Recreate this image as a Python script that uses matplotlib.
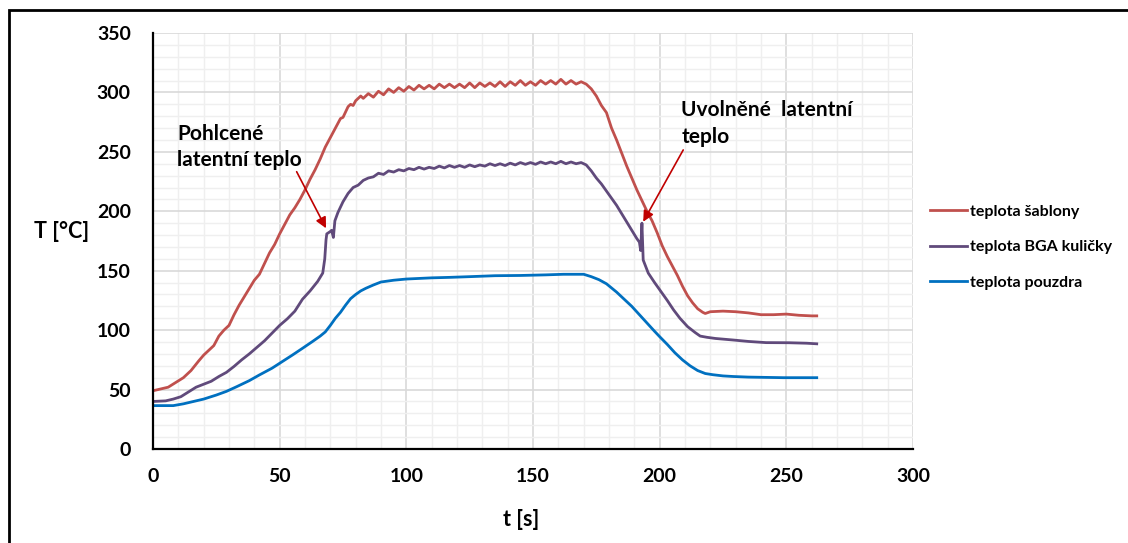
import matplotlib
matplotlib.use('Agg')
import matplotlib.pyplot as plt
from matplotlib.patches import Rectangle
from matplotlib.ticker import MultipleLocator

plt.rcParams['font.family'] = ['Lato', 'DejaVu Sans']
plt.rcParams['font.weight'] = 'bold'

# teplota sablony
t_sablona = [0, 3, 6, 9, 12, 15, 18, 20, 22, 24, 26, 28, 30, 32, 34, 36, 38, 40, 42, 44,
             46, 48, 50, 52, 54, 56, 58, 60, 62, 64, 66, 68, 70, 72, 74, 75, 77, 78, 79, 80,
             82, 83, 85, 87, 89, 91, 93, 95, 97, 99, 101, 103, 105, 107, 109, 111, 113, 115, 117, 119,
             121, 123, 125, 127, 129, 131, 133, 135, 137, 139, 141, 143, 145, 147, 149, 151, 153, 155, 157, 159,
             161, 163, 165, 167, 169, 171, 173, 175, 177, 179, 181, 183, 185, 187, 189, 191, 193, 195, 197, 199,
             201, 203, 205, 207, 209, 211, 213, 215, 217, 218, 220, 225, 230, 235, 240, 245, 250, 255, 260, 262]
T_sablona = [49, 50.5, 52, 56, 60, 66, 74, 79, 83, 87, 95, 100, 104, 113, 121, 128, 135, 142, 147, 156,
             165, 172, 181, 189, 197, 203, 210, 218, 227, 235, 244, 254, 262, 270, 278, 279, 288, 290, 289, 293,
             297, 295, 299, 296, 301, 298, 303, 300, 304, 301, 305, 302, 306, 303, 306, 303, 307, 304, 307, 304,
             307, 304, 308, 304, 308, 305, 308, 305, 309, 305, 309, 306, 310, 306, 309, 306, 310, 307, 310, 307,
             311, 307, 310, 307, 309, 307, 303, 297, 289, 283, 270, 260, 249, 238, 228, 218, 209, 200, 192, 182,
             171, 162, 154, 146, 137, 129, 123, 118, 115, 114, 115.5, 116, 115.5, 114.5, 113, 113, 113.5, 112.5, 112, 112]

# teplota BGA kulicky
t_bga = [0, 5, 8, 11, 14, 17, 20, 23, 26, 29, 32, 35, 38, 41, 44, 47, 50, 53, 56, 59,
         62, 65, 67, 67.8, 68.3, 68.6, 70, 70.5, 71.2, 71.8, 73, 75, 77, 79, 81, 83, 85, 87, 89, 91,
         93, 95, 97, 99, 101, 103, 105, 107, 109, 111, 113, 115, 117, 119, 121, 123, 125, 127, 129, 131,
         133, 135, 137, 139, 141, 143, 145, 147, 149, 151, 153, 155, 157, 159, 161, 163, 165, 167, 169, 171,
         173, 175, 177, 179, 181, 183, 185, 187, 189, 191, 192, 192.5, 193, 193.5, 195.5, 198, 200, 203, 205.5, 208,
         211, 214, 216, 218.6, 222, 229, 235, 242, 251, 258, 262]
T_bga = [40, 40.5, 42, 44, 48, 52, 54.5, 57, 61, 64.5, 69.5, 75, 80, 85.5, 91, 97.5, 104, 109.5, 116, 126,
         133, 141, 148, 160, 176, 181, 183, 184, 178, 192, 199, 208, 215, 220, 222, 226, 228, 229, 232, 231,
         234, 233, 235, 234, 236, 235, 237, 235.5, 237, 236, 238, 236.5, 238.5, 237, 238.5, 237, 239, 237.5, 239, 238,
         240, 238.5, 240, 238.5, 240.5, 239, 241, 239.5, 241, 239.5, 241.5, 240, 241.5, 240, 242, 240, 241.5, 240, 241, 239,
         234, 228, 223, 217, 211, 205, 198, 191, 184, 177, 174, 167, 190, 159, 148, 140, 134, 125, 117, 110,
         103, 98, 95, 94, 93, 91.7, 90.5, 89.5, 89.4, 89, 88.5]

# teplota pouzdra
t_pouzdro = [0, 8, 12, 16, 20, 25, 29, 33, 38, 42, 47, 51, 55, 59, 63, 66, 68, 70, 72, 74,
             76, 78, 80, 82, 84, 87, 90, 95, 100, 110, 117, 125, 135, 145, 155, 162, 170, 173, 176, 179,
             183, 186, 189, 192, 195, 198, 200, 203, 206, 209, 212, 215, 218, 221, 225, 229, 235, 249, 262]
T_pouzdro = [36.5, 36.5, 38, 40, 42, 45.4, 48.5, 52.4, 57.5, 62.3, 68, 73.5, 79, 84.7, 90.5, 95, 98.5, 104, 110, 115,
             121, 126.5, 130, 133, 135.2, 138, 140.5, 142, 143, 144, 144.4, 145, 145.8, 146, 146.5, 147, 147, 145, 142.5, 139,
             132, 126, 120, 113, 106, 99, 94.5, 88, 81, 75, 70, 66, 63.5, 62.5, 61.5, 61, 60.5, 60, 60]

W, H = 1128, 543
fig = plt.figure(figsize=(W / 100, H / 100), dpi=100)
ax = fig.add_axes([153 / W, 1 - 449 / H, (913 - 153) / W, (449 - 33) / H])

ax.plot(t_sablona, T_sablona, color='#c0504d', lw=2.0, label='teplota šablony')
ax.plot(t_bga, T_bga, color='#604a7b', lw=2.0, label='teplota BGA kuličky')
ax.plot(t_pouzdro, T_pouzdro, color='#0070c0', lw=2.0, label='teplota pouzdra')

ax.set_xlim(0, 300)
ax.set_ylim(0, 350)
ax.xaxis.set_major_locator(MultipleLocator(50))
ax.xaxis.set_minor_locator(MultipleLocator(10))
ax.yaxis.set_major_locator(MultipleLocator(50))
ax.yaxis.set_minor_locator(MultipleLocator(10))
ax.grid(which='major', color='#d9d9d9', lw=1.2)
ax.grid(which='minor', color='#efefef', lw=1.0)
ax.set_axisbelow(True)
ax.tick_params(which='both', length=0)
ax.tick_params(axis='y', pad=16, labelsize=14)
ax.tick_params(axis='x', pad=14, labelsize=14)
for s in ['top', 'right']:
    ax.spines[s].set_visible(False)
for s in ['left', 'bottom']:
    ax.spines[s].set_linewidth(1.6)

fig.text(62 / W, 1 - 232 / H, 'T [°C]', ha='center', va='center', fontsize=15.5)
fig.text(521 / W, 1 - 520 / H, 't [s]', ha='center', va='center', fontsize=15.5)

arrow = dict(arrowstyle='-|>', color='#c00000', lw=1.2, mutation_scale=16, shrinkA=0, shrinkB=0)
ax.annotate('', xy=(68.3, 185.7), xytext=(56.7, 233.3), arrowprops=arrow)
ax.annotate('', xy=(193.5, 191.2), xytext=(209.3, 251.6), arrowprops=arrow)
ax.text(9.5, 254, 'Pohlcené\nlatentní teplo', fontsize=15, va='center', ha='left', linespacing=1.4)
ax.text(208.5, 274, 'Uvolněné  latentní\nteplo', fontsize=15, va='center', ha='left', linespacing=1.4)

fig.legend(loc='upper left', bbox_to_anchor=(924 / W, 1 - 198 / H), frameon=False,
           fontsize=11.5, handlelength=2.3, handletextpad=0.2, labelspacing=1.35, borderaxespad=0)

fig.add_artist(Rectangle((9 / W, -0.05), 1.2, 1 - 10 / H + 0.05, fill=False, lw=2,
                         edgecolor='black', transform=fig.transFigure))

fig.savefig('out.png', dpi=100)
